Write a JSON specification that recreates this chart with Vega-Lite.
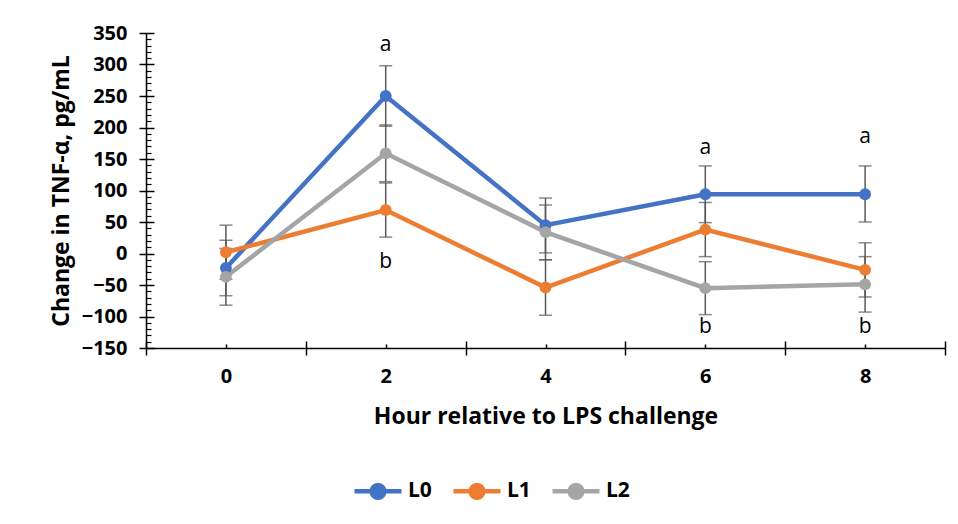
{
  "$schema": "https://vega.github.io/schema/vega-lite/v6.json",
  "width": 799,
  "height": 315,
  "autosize": {"type": "none"},
  "padding": {"left": 146, "top": 33, "right": 13, "bottom": 176},
  "background": "white",
  "config": {
    "font": "Open Sans",
    "view": {"stroke": null},
    "axis": {"labelFont": "Open Sans", "titleFont": "Open Sans", "domainColor": "#000000", "tickColor": "#000000", "labelColor": "#000000", "titleColor": "#000000", "gridColor": "#000000", "gridOpacity": 1}
  },
  "datasets": {
    "stats": [
      {"hour": 0, "group": "L0", "mean": -23, "lo": -67, "hi": 21},
      {"hour": 2, "group": "L0", "mean": 250, "lo": 202, "hi": 298},
      {"hour": 4, "group": "L0", "mean": 45, "lo": 1, "hi": 88},
      {"hour": 6, "group": "L0", "mean": 94, "lo": 49, "hi": 139},
      {"hour": 8, "group": "L0", "mean": 94, "lo": 50, "hi": 139},
      {"hour": 0, "group": "L1", "mean": 2, "lo": -41, "hi": 45},
      {"hour": 2, "group": "L1", "mean": 69, "lo": 26, "hi": 112},
      {"hour": 4, "group": "L1", "mean": -54, "lo": -98, "hi": -10},
      {"hour": 6, "group": "L1", "mean": 38, "lo": -5, "hi": 81},
      {"hour": 8, "group": "L1", "mean": -26, "lo": -69, "hi": 17},
      {"hour": 0, "group": "L2", "mean": -37, "lo": -82, "hi": 8},
      {"hour": 2, "group": "L2", "mean": 159, "lo": 114, "hi": 204},
      {"hour": 4, "group": "L2", "mean": 34, "lo": -10, "hi": 77},
      {"hour": 6, "group": "L2", "mean": -55, "lo": -97, "hi": -13},
      {"hour": 8, "group": "L2", "mean": -49, "lo": -93, "hi": -5}
    ],
    "letters": [
      {"hour": 2, "label": "a", "pos": 331},
      {"hour": 2, "label": "b", "pos": -14},
      {"hour": 6, "label": "a", "pos": 168},
      {"hour": 6, "label": "b", "pos": -117},
      {"hour": 8, "label": "a", "pos": 185},
      {"hour": 8, "label": "b", "pos": -117}
    ]
  },
  "resolve": {"axis": {"x": "independent", "y": "independent"}},
  "layer": [
    {
      "data": {"name": "stats"},
      "mark": {"type": "rule", "color": "#595959", "strokeWidth": 1.5},
      "encoding": {
        "x": {"field": "hour", "type": "quantitative", "scale": {"domain": [-1, 9], "nice": false, "zero": false},
          "axis": {"orient": "bottom", "values": [0, 2, 4, 6, 8], "ticks": false, "tickSize": 0, "grid": true, "gridDash": [4, 2000], "gridDashOffset": 1693, "gridWidth": 1.5, "domainWidth": 1.5, "labelFontSize": 20, "labelFontWeight": "bold", "labelPadding": 18,
            "title": "Hour relative to LPS challenge", "titleFontSize": 23, "titleFontWeight": "bold", "titlePadding": 19}},
        "y": {"field": "lo", "type": "quantitative", "scale": {"domain": [-150, 350], "nice": false, "zero": false},
          "axis": {"orient": "left", "values": [-150, -100, -50, 0, 50, 100, 150, 200, 250, 300, 350], "tickSize": 7, "tickWidth": 1.5, "grid": true, "gridDash": [8, 2000], "gridWidth": 1.5, "domainWidth": 1.5, "labelFontSize": 20, "labelFontWeight": "bold", "labelPadding": 12,
            "title": "Change in TNF-α, pg/mL", "titleFontSize": 23, "titleFontWeight": "bold", "titlePadding": 8}},
        "y2": {"field": "hi"}
      }
    },
    {
      "data": {"name": "stats"},
      "mark": {"type": "tick", "orient": "horizontal", "color": "#595959", "size": 13, "thickness": 1.5},
      "encoding": {
        "x": {"field": "hour", "type": "quantitative",
          "axis": {"orient": "bottom", "values": [-1, 1, 3, 5, 7, 9], "tickSize": 7, "tickWidth": 1.5, "grid": true, "gridDash": [7, 2000], "gridDashOffset": 1699, "gridWidth": 1.5, "labels": false, "domain": false, "title": null}},
        "y": {"field": "lo", "type": "quantitative",
          "axis": {"orient": "left", "values": [-140, -130, -120, -110, -90, -80, -70, -60, -40, -30, -20, -10, 10, 20, 30, 40, 60, 70, 80, 90, 110, 120, 130, 140, 160, 170, 180, 190, 210, 220, 230, 240, 260, 270, 280, 290, 310, 320, 330, 340], "ticks": false, "grid": true, "gridDash": [5, 2000], "gridWidth": 1.2, "labels": false, "domain": false, "title": null}}
      }
    },
    {
      "data": {"name": "stats"},
      "mark": {"type": "tick", "orient": "horizontal", "color": "#595959", "size": 13, "thickness": 1.5},
      "encoding": {
        "x": {"field": "hour", "type": "quantitative", "axis": null},
        "y": {"field": "hi", "type": "quantitative", "axis": null}
      }
    },
    {
      "data": {"name": "stats"},
      "mark": {"type": "line", "strokeWidth": 4.5},
      "encoding": {
        "x": {"field": "hour", "type": "quantitative", "axis": null},
        "y": {"field": "mean", "type": "quantitative", "axis": null},
        "color": {"field": "group", "type": "nominal",
          "scale": {"domain": ["L0", "L1", "L2"], "range": ["#4472C4", "#ED7D31", "#A5A5A5"]},
          "legend": {"orient": "none", "legendX": 206, "legendY": 432, "direction": "horizontal", "title": null,
            "symbolType": "M-1,0L1,0M-0.27,0A0.27,0.27 0 1,1 0.27,0A0.27,0.27 0 1,1 -0.27,0Z",
            "symbolSize": 2209, "symbolStrokeWidth": 4.5, "labelFontSize": 21, "labelFontWeight": "bold", "labelColor": "#000000", "labelOffset": 4, "columnPadding": 12}}
      }
    },
    {
      "data": {"name": "stats"},
      "mark": {"type": "point", "filled": true, "size": 140, "opacity": 1},
      "encoding": {
        "x": {"field": "hour", "type": "quantitative", "axis": null},
        "y": {"field": "mean", "type": "quantitative", "axis": null},
        "color": {"field": "group", "type": "nominal"}
      }
    },
    {
      "data": {"name": "letters"},
      "mark": {"type": "text", "fontSize": 21, "color": "#000000", "baseline": "middle"},
      "encoding": {
        "x": {"field": "hour", "type": "quantitative", "axis": null},
        "y": {"field": "pos", "type": "quantitative", "axis": null},
        "text": {"field": "label"}
      }
    }
  ]
}
